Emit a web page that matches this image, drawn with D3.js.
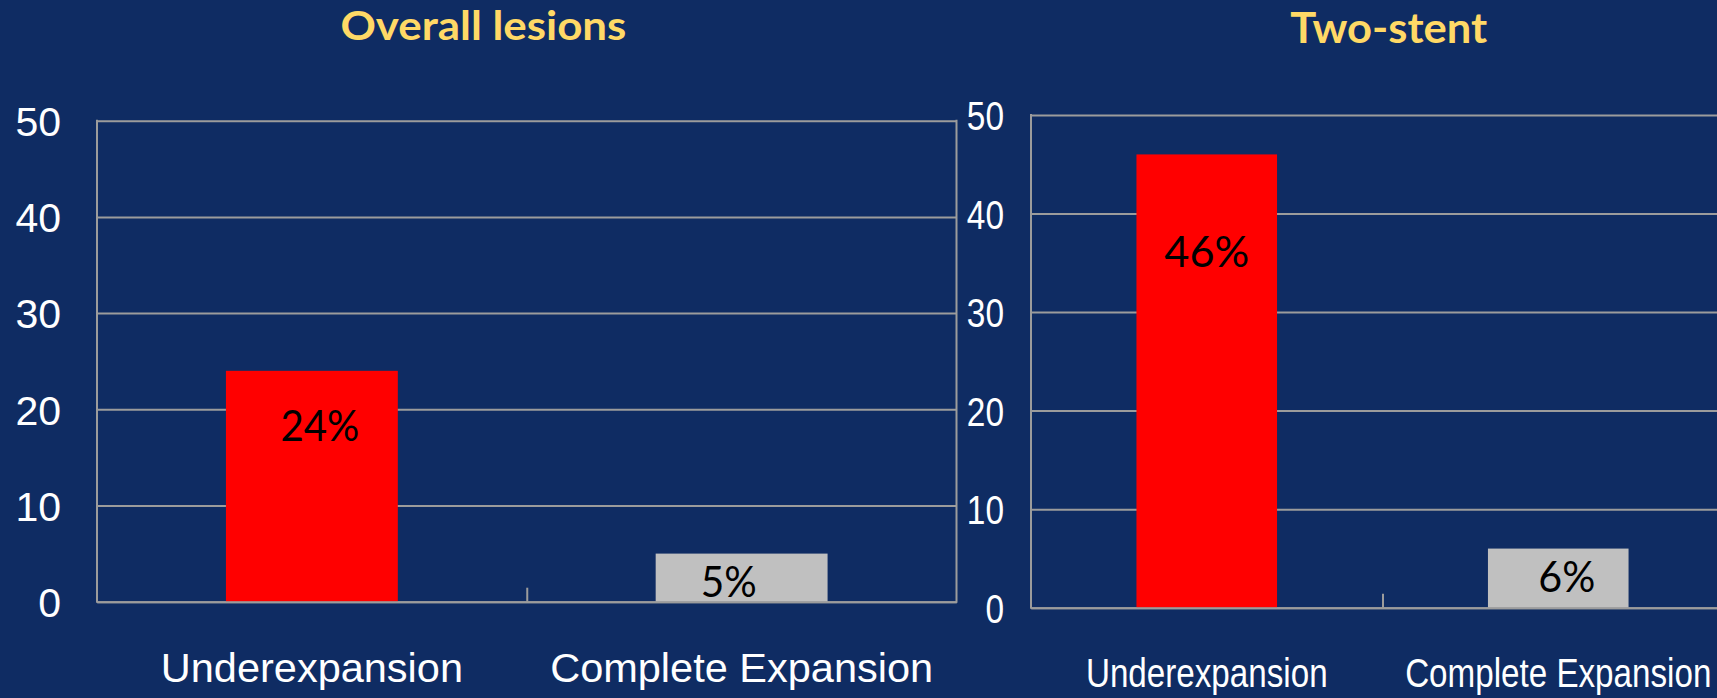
<!DOCTYPE html>
<html>
<head>
<meta charset="utf-8">
<script src="https://cdn.jsdelivr.net/npm/d3@7"></script>
<style>
  html, body { margin: 0; padding: 0; background: #0F2C63; overflow: hidden; }
  svg { display: block; }
</style>
</head>
<body>
<svg id="chart" width="1717" height="698"></svg>
<script>
// ---------------- data ----------------
const titles = ["Overall lesions", "Two-stent"];
const categories = ["Underexpansion", "Complete Expansion"];
const overallValues = [24, 5];
const twoStentValues = [46, 6];
const yTicks = [0, 10, 20, 30, 40, 50];

// ---------------- layout / style ----------------
const W = 1717, H = 698;
const BG = "#0F2C63";
const GRID = "#9C9C9C";
const barColors = ["#FF0000", "#C0C0C0"];
const TITLE_COLOR = "#FFD966";

const panels = [
  {
    title: titles[0], values: overallValues,
    x0: 97, x1: 956.5, yTop: 120.7, yBot: 601.7,
    tickRight: 61, squeeze: 1, catSqueeze: 1,
    titleX: 483.4, titleY: 40, titleSize: 40, titleLen: 286,
    catBaseline: 682, rightBorder: true,
    valueStyle: [ {dx: 8, dy: 70, len: 79}, {dx: -13, dy: 43.3, len: 56} ]
  },
  {
    title: titles[1], values: twoStentValues,
    x0: 1031, x1: 1734, yTop: 115, yBot: 607.7,
    tickRight: 1004, squeeze: 0.815, catSqueeze: 0.8,
    titleX: 1388.7, titleY: 42.5, titleSize: 42, titleLen: 197,
    catBaseline: 687, rightBorder: true,
    valueStyle: [ {dx: 0, dy: 112.7, len: 85}, {dx: 8.5, dy: 43.4, len: 57} ]
  }
];

const svg = d3.select("#chart");
svg.append("rect").attr("width", W).attr("height", H).attr("fill", BG);

panels.forEach(p => {
  const g = svg.append("g");
  const y = d3.scaleLinear().domain([0, 50]).range([p.yBot, p.yTop]);
  const x = d3.scaleBand().domain(categories).range([p.x0, p.x1]).paddingInner(0).paddingOuter(0);
  const barW = x.bandwidth() * 0.4;

  // gridlines
  const grid = g.append("g")
    .attr("transform", `translate(${p.x0},0)`)
    .call(d3.axisLeft(y).tickValues(yTicks).tickSize(-(p.x1 - p.x0)).tickFormat(""));
  grid.select(".domain").remove();
  grid.selectAll(".tick line").attr("stroke", GRID).attr("stroke-width", 2);

  // y tick labels
  const yAx = g.append("g")
    .attr("transform", `translate(${p.tickRight},0)`)
    .call(d3.axisLeft(y).tickValues(yTicks).tickSize(0).tickPadding(0).tickFormat(d3.format("d")));
  yAx.select(".domain").remove();
  yAx.attr("font-family", null).attr("font-size", null);
  yAx.selectAll(".tick text")
    .attr("fill", "#FFFFFF")
    .attr("font-family", "'Liberation Sans', Arial, sans-serif")
    .attr("font-size", 41)
    .attr("x", 0)
    .attr("dy", "0.36em")
    .attr("text-anchor", "end")
    .attr("transform", p.squeeze === 1 ? null : `scale(${p.squeeze},1)`);

  // bars
  g.selectAll("rect.bar")
    .data(p.values)
    .join("rect")
    .attr("class", "bar")
    .attr("x", (d, i) => x(categories[i]) + (x.bandwidth() - barW) / 2)
    .attr("width", barW)
    .attr("y", d => y(d))
    .attr("height", d => y(0) - y(d))
    .attr("fill", (d, i) => barColors[i]);

  // frame: left border, right border
  g.append("line").attr("x1", p.x0).attr("x2", p.x0).attr("y1", p.yTop - 1).attr("y2", p.yBot + 1)
    .attr("stroke", GRID).attr("stroke-width", 2);
  if (p.rightBorder) {
    g.append("line").attr("x1", p.x1).attr("x2", p.x1).attr("y1", p.yTop - 1).attr("y2", p.yBot + 1)
      .attr("stroke", GRID).attr("stroke-width", 2);
  }

  // x axis (baseline + inner ticks at category boundaries)
  const boundaries = categories.slice(1).map(c => x(c));
  const xAx = g.append("g")
    .attr("transform", `translate(0,${p.yBot})`)
    .call(d3.axisBottom(d3.scaleLinear().domain([p.x0, p.x1]).range([p.x0, p.x1]))
      .tickValues(boundaries).tickSize(-14).tickSizeOuter(0).tickFormat(""));
  xAx.select(".domain").attr("stroke", GRID).attr("stroke-width", 2);
  xAx.selectAll(".tick line").attr("stroke", GRID).attr("stroke-width", 2);

  // category labels
  g.selectAll("text.cat")
    .data(categories)
    .join("text")
    .attr("class", "cat")
    .attr("transform", d => `translate(${x(d) + x.bandwidth() / 2},${p.catBaseline}) scale(${p.catSqueeze},1)`)
    .attr("text-anchor", "middle")
    .attr("fill", "#FFFFFF")
    .attr("font-family", "'Liberation Sans', Arial, sans-serif")
    .attr("font-size", 41.5)
    .text(d => d);

  // value labels
  g.selectAll("text.val")
    .data(p.values)
    .join("text")
    .attr("class", "val")
    .attr("x", (d, i) => x(categories[i]) + x.bandwidth() / 2 + p.valueStyle[i].dx)
    .attr("y", (d, i) => y(d) + p.valueStyle[i].dy)
    .attr("text-anchor", "middle")
    .attr("fill", "#000000")
    .attr("font-family", "Lato, 'Open Sans', sans-serif")
    .attr("font-size", 43)
    .attr("textLength", (d, i) => p.valueStyle[i].len)
    .attr("lengthAdjust", "spacingAndGlyphs")
    .text(d => d + "%");

  // title
  g.append("text")
    .attr("x", p.titleX)
    .attr("y", p.titleY)
    .attr("text-anchor", "middle")
    .attr("fill", TITLE_COLOR)
    .attr("font-family", "Lato, 'Open Sans', sans-serif")
    .attr("font-weight", "bold")
    .attr("font-size", p.titleSize)
    .attr("textLength", p.titleLen)
    .attr("lengthAdjust", "spacingAndGlyphs")
    .text(p.title);
});
</script>
</body>
</html>
